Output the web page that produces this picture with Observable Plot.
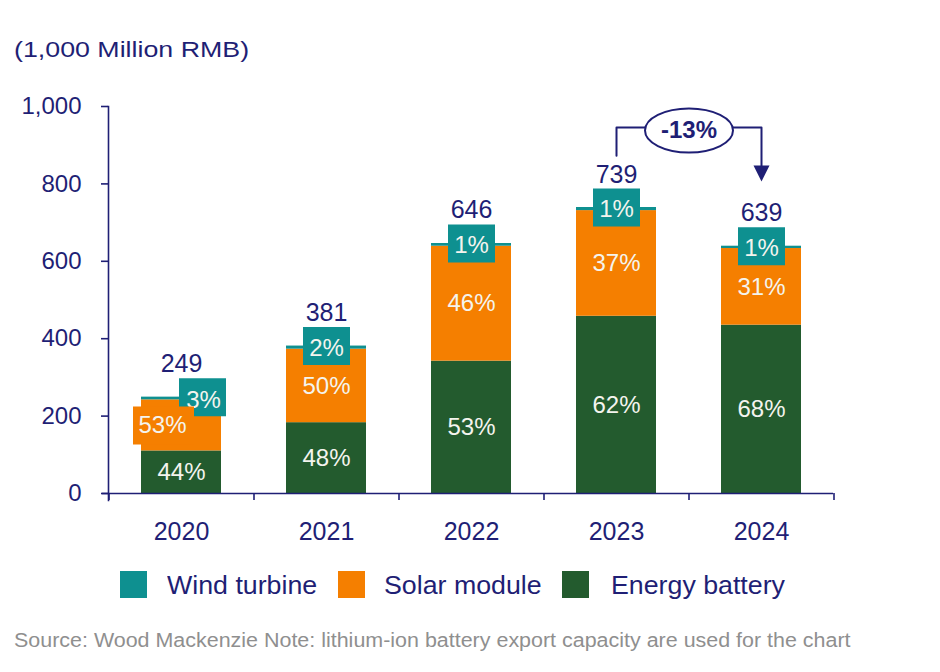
<!DOCTYPE html>
<html>
<head>
<meta charset="utf-8">
<script src="https://cdn.jsdelivr.net/npm/d3@7"></script>
<script src="https://cdn.jsdelivr.net/npm/@observablehq/plot@0.6"></script>
<style>
  html, body { margin: 0; padding: 0; background: #fff; }
  body { width: 940px; height: 672px; position: relative; overflow: hidden; font-family: "Liberation Sans", Arial, sans-serif; }
  #title { position: absolute; left: 14px; top: 36px; font-size: 22.5px; color: #1f1f75; line-height: 28px; white-space: nowrap; transform: scaleX(1.19); transform-origin: 0 50%; }
  #chart { position: absolute; left: 0; top: 80px; }
  #legend { position: absolute; left: 0; top: 571px; width: 940px; height: 30px; }
  .sw { position: absolute; width: 27px; height: 27px; top: 0; }
  .lt { position: absolute; top: 0; font-size: 25px; line-height: 28px; color: #1f1f75; white-space: nowrap; transform: scaleX(1.07); transform-origin: 0 50%; }
  #source { position: absolute; left: 14px; top: 628px; font-size: 19.5px; line-height: 24px; color: #8f8f8f; white-space: nowrap; transform: scaleX(1.1); transform-origin: 0 50%; }
</style>
</head>
<body>
<div id="title"></div>
<div id="chart"></div>
<div id="legend"></div>
<div id="source"></div>
<script>
// ---- data ----
const years = ["2020", "2021", "2022", "2023", "2024"];
const totals = [249, 381, 646, 739, 639];
const battery = [110, 183, 342, 458, 435];
const solar = [132, 190, 297, 273, 198];
const wind = [7, 8, 7, 8, 6];
const batteryPct = ["44%", "48%", "53%", "62%", "68%"];
const solarPct = ["53%", "50%", "46%", "37%", "31%"];
const windPct = ["3%", "2%", "1%", "1%", "1%"];
const seriesNames = ["Wind turbine", "Solar module", "Energy battery"];
const yTicks = [0, 200, 400, 600, 800, 1000];
const titleText = "(1,000 Million RMB)";
const sourceText = "Source: Wood Mackenzie Note: lithium-ion battery export capacity are used for the chart";
const changeText = "-13%";
const changeFrom = "2023";
const changeTo = "2024";
const bracketStart = 873;
const bracketTop = 946;
const arrowTip = 806;

// ---- styles ----
const navy = "#1f1f75";
const colors = ["#0e9090", "#f57f00", "#235b2e"];
const labelWhite = "#f4f4ee";

// ---- derived tables ----
const stacked = [];
years.forEach((yr, i) => {
  stacked.push({year: yr, series: "Energy battery", value: battery[i]});
  stacked.push({year: yr, series: "Solar module", value: solar[i]});
  stacked.push({year: yr, series: "Wind turbine", value: wind[i]});
});
const batteryLabels = years.map((yr, i) => ({year: yr, y: battery[i] / 2, text: batteryPct[i]}));
const solarLabels = years.map((yr, i) => ({year: yr, y: battery[i] + solar[i] / 2, text: solarPct[i]}));
const windLabels = years.map((yr, i) => ({year: yr, y: battery[i] + solar[i] + wind[i], text: windPct[i]}));
const totalLabels = years.map((yr, i) => ({year: yr, y: battery[i] + solar[i] + wind[i], text: String(totals[i])}));
const bracket = [
  {x: changeFrom, y: bracketStart},
  {x: changeFrom, y: bracketTop},
  {x: changeTo, y: bracketTop},
  {x: changeTo, y: arrowTip + 20}
];

const boxSymbol = (w, h) => ({draw(ctx) { ctx.rect(-w / 2, -h / 2, w, h); }});
const ellipseSymbol = (rx, ry) => ({draw(ctx) {
  const k = 0.5523;
  ctx.moveTo(rx, 0);
  ctx.bezierCurveTo(rx, ry * k, rx * k, ry, 0, ry);
  ctx.bezierCurveTo(-rx * k, ry, -rx, ry * k, -rx, 0);
  ctx.bezierCurveTo(-rx, -ry * k, -rx * k, -ry, 0, -ry);
  ctx.bezierCurveTo(rx * k, -ry, rx, -ry * k, rx, 0);
  ctx.closePath();
}});
const arrowSymbol = {draw(ctx) { ctx.moveTo(-8, -16); ctx.lineTo(8, -16); ctx.lineTo(0, 0); ctx.closePath(); }};

const W = 940, mL = 108, mR = 107;
const step = (W - mL - mR) / years.length;
const first = years[0];

const chart = Plot.plot({
  width: W,
  height: 480,
  marginLeft: mL,
  marginRight: mR,
  marginTop: 26,
  marginBottom: 67,
  style: {fontFamily: "'Liberation Sans', Arial, sans-serif", fontSize: "24px", color: navy, background: "#fff", overflow: "visible"},
  x: {domain: years, paddingInner: 0.45, paddingOuter: 0.225, label: null},
  y: {domain: [0, 1000], label: null},
  color: {domain: seriesNames, range: colors},
  marks: [
    Plot.barY(stacked, Plot.stackY({x: "year", y: "value", fill: "series", z: "series"})),
    // axes
    Plot.axisY({ticks: yTicks, tickSize: 7, tickPadding: 20, fontSize: 24, tickFormat: d3.format(","), strokeWidth: 1.6}),
    Plot.axisX({tickSize: 0, tickPadding: 29, fontSize: 25}),
    Plot.frame({anchor: "left", stroke: navy, strokeWidth: 1.6, insetBottom: -7}),
    Plot.ruleY([0], {stroke: navy, strokeWidth: 1.6, insetLeft: -6}),
    Plot.ruleX(years, {x: d => d, y1: 0, y2: 0, dx: -step / 2, insetBottom: -7, stroke: navy, strokeWidth: 1.6}),
    Plot.ruleX(years.slice(-1), {x: d => d, y1: 0, y2: 0, dx: step / 2, insetBottom: -7, stroke: navy, strokeWidth: 1.6}),
    // battery labels
    Plot.text(batteryLabels, {x: "year", y: "y", text: "text", fill: labelWhite, fontSize: 24}),
    // solar labels (regular)
    Plot.text(solarLabels, {x: "year", y: "y", text: "text", fill: labelWhite, fontSize: 24, filter: d => d.year !== first}),
    // wind boxes
    Plot.dot(windLabels, {filter: d => d.year !== first, x: "year", y: "y", symbol: boxSymbol(47, 38), r: 5, fill: colors[0], stroke: null}),
    Plot.dot(windLabels, {filter: d => d.year === first, x: "year", y: "y", dx: 21, symbol: boxSymbol(47, 38), r: 5, fill: colors[0], stroke: null}),
    Plot.text(windLabels, {filter: d => d.year !== first, x: "year", y: "y", text: "text", dy: 2, fill: labelWhite, fontSize: 24}),
    Plot.text(windLabels, {filter: d => d.year === first, x: "year", y: "y", text: "text", dx: 22, dy: 3, fill: labelWhite, fontSize: 24}),
    // solar label with box (first year, drawn over the wind box)
    Plot.dot(solarLabels, {filter: d => d.year === first, x: "year", y: "y", dx: -18, symbol: boxSymbol(61, 38), r: 5, fill: colors[1], stroke: null}),
    Plot.text(solarLabels, {x: "year", y: "y", text: "text", fill: labelWhite, fontSize: 24, dx: -19, filter: d => d.year === first}),
    // totals
    Plot.text(totalLabels, {x: "year", y: "y", text: "text", dy: -33, fill: navy, fontSize: 25}),
    // change annotation
    Plot.line(bracket, {x: "x", y: "y", stroke: navy, strokeWidth: 2, curve: "linear"}),
    Plot.dot([{x: changeTo, y: arrowTip}], {x: "x", y: "y", symbol: arrowSymbol, r: 5, fill: navy, stroke: null}),
    Plot.dot([{x: changeFrom, y: bracketTop - 8}], {x: "x", y: "y", dx: step / 2, symbol: ellipseSymbol(44, 22), r: 5, fill: "#fff", stroke: navy, strokeWidth: 2}),
    Plot.text([{x: changeFrom, y: bracketTop - 8, text: changeText}], {x: "x", y: "y", text: "text", dx: step / 2, fill: navy, fontSize: 24, fontWeight: "bold"})
  ]
});
document.getElementById("chart").appendChild(chart);

document.getElementById("title").textContent = titleText;
document.getElementById("source").textContent = sourceText;

const legend = document.getElementById("legend");
const swX = [120, 338, 562];
const txX = [167, 384, 611];
seriesNames.forEach((name, i) => {
  const sw = document.createElement("div");
  sw.className = "sw";
  sw.style.left = swX[i] + "px";
  sw.style.background = colors[i];
  legend.appendChild(sw);
  const t = document.createElement("div");
  t.className = "lt";
  t.style.left = txX[i] + "px";
  t.textContent = name;
  legend.appendChild(t);
});
</script>
</body>
</html>
